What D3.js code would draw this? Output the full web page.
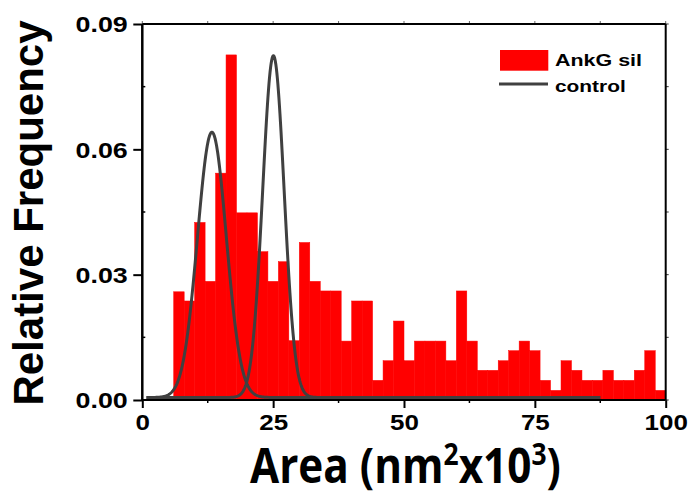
<!DOCTYPE html>
<html><head><meta charset="utf-8">
<script src="https://cdn.jsdelivr.net/npm/d3@7"></script>
<style>body{margin:0;background:#fff}svg{display:block}</style>
</head><body><svg id="c" width="692" height="497"></svg>
<script>
// Histogram (AnkG sil): bin starts and relative frequencies, bin width 2
const binStart = [6,8,10,12,14,16,18,20,22,24,26,28,30,32,34,36,38,40,42,44,46,48,50,52,54,56,58,60,62,64,66,68,70,72,74,76,78,80,82,84,86,88,90,92,94,96,98];
const binFreq  = [0.0259,0.0237,0.0425,0.0284,0.0543,0.0826,0.0448,0.0448,0.0355,0.0284,0.0331,0.0142,0.0377,0.0284,0.0261,0.0261,0.0141,0.0237,0.0237,0.0047,0.0094,0.0189,0.0094,0.0141,0.0141,0.0141,0.0094,0.0261,0.0141,0.0071,0.0071,0.0094,0.0118,0.0141,0.0118,0.0047,0.0023,0.0094,0.0071,0.0047,0.0047,0.0071,0.0047,0.0047,0.0071,0.0118,0.0023];
const binWidth = 2;
// Control: two Gaussian fit curves (centre, sigma, peak height), baseline offset, x extent
const controlCenter = [13.3, 25.05];
const controlSigma  = [2.75, 2.05];
const controlPeak   = [0.0635, 0.0818];
const controlBase   = 0.0006;
const controlRange  = [0.8, 87.5];
const xTicks = [0,25,50,75,100];
const yTicks = [0,0.03,0.06,0.09];
const legendLabels = ["AnkG sil","control"];

const svg = d3.select("#c");
const L=142.3, R=665.7, T=24, B=400;
const x = d3.scaleLinear().domain([0,100]).range([L,R]);
const y = d3.scaleLinear().domain([0,0.09]).range([B,T]);

// bars
svg.append("g").selectAll("rect").data(binStart).join("rect")
  .attr("x", (d)=>x(d)).attr("width", (d)=>x(d+binWidth)-x(d))
  .attr("y", (d,i)=>y(binFreq[i])).attr("height", (d,i)=>B-y(binFreq[i]))
  .attr("fill","#ff0000").attr("stroke","#ff0000").attr("stroke-width",0.5);

// control curves
const line = d3.line().x(d=>x(d[0])).y(d=>y(d[1])).curve(d3.curveLinear);
controlCenter.forEach((c,k)=>{
  const pts=[];
  for(let v=controlRange[0]; v<=controlRange[1]+1e-9; v+=0.1){
    pts.push([v, controlBase + controlPeak[k]*Math.exp(-((v-c)**2)/(2*controlSigma[k]**2))]);
  }
  svg.append("path").attr("d", line(pts)).attr("fill","none")
    .attr("stroke","#404040").attr("stroke-width",3).attr("stroke-linejoin","round");
});

// axes
const font = "Liberation Sans, Arial, sans-serif";
const yAx = svg.append("g").attr("transform",`translate(${L},0)`)
  .call(d3.axisLeft(y).tickValues(yTicks).tickFormat(d3.format(".2f")).tickSize(9).tickPadding(5));
const xAx = svg.append("g").attr("transform",`translate(0,${B})`)
  .call(d3.axisBottom(x).tickValues(xTicks).tickSize(8).tickPadding(6));
[yAx,xAx].forEach(g=>{
  g.select(".domain").remove();
  g.selectAll(".tick line").attr("stroke","#000").attr("stroke-width",2);
  g.selectAll("text").attr("font-family",font).attr("font-weight","bold").attr("font-size",22).attr("fill","#000");
});
yAx.selectAll("text").attr("x",-14.6/1.22).attr("dy","0.36em").attr("transform","scale(1.22,1)");
xAx.selectAll("text").attr("dy","0.71em").attr("transform","scale(1.18,1)");

// minor ticks
const minorX = [12.5,37.5,62.5,87.5], minorY=[0.015,0.045,0.075];
svg.append("g").selectAll("line").data(minorX).join("line")
  .attr("x1",d=>x(d)).attr("x2",d=>x(d)).attr("y1",B).attr("y2",B+3).attr("stroke","#000").attr("stroke-width",1.5);
svg.append("g").selectAll("line").data(minorY).join("line")
  .attr("y1",d=>y(d)).attr("y2",d=>y(d)).attr("x1",L).attr("x2",L+3).attr("stroke","#000").attr("stroke-width",1.5);
// top & right small ticks
svg.append("g").selectAll("line").data(xTicks.concat(minorX)).join("line")
  .attr("x1",d=>x(d)).attr("x2",d=>x(d)).attr("y1",T).attr("y2",T-3).attr("stroke","#666").attr("stroke-width",1);
svg.append("g").selectAll("line").data(yTicks.concat(minorY)).join("line")
  .attr("y1",d=>y(d)).attr("y2",d=>y(d)).attr("x1",R).attr("x2",R+3).attr("stroke","#333").attr("stroke-width",1);

// frame
svg.append("line").attr("x1",L).attr("x2",L).attr("y1",T).attr("y2",B+1).attr("stroke","#000").attr("stroke-width",2.5);
svg.append("line").attr("x1",L).attr("x2",R).attr("y1",B).attr("y2",B).attr("stroke","#000").attr("stroke-width",2);
svg.append("line").attr("x1",R).attr("x2",R).attr("y1",T).attr("y2",B).attr("stroke","#000").attr("stroke-width",2);
svg.append("line").attr("x1",L).attr("x2",R).attr("y1",T).attr("y2",T).attr("stroke","#000").attr("stroke-width",2);

// legend
svg.append("rect").attr("x",500).attr("y",50).attr("width",48.3).attr("height",20.7).attr("fill","#ff0000");
svg.append("line").attr("x1",499).attr("x2",548).attr("y1",84).attr("y2",84).attr("stroke","#404040").attr("stroke-width",3);
svg.append("text").attr("x",555).attr("y",66).text(legendLabels[0])
  .attr("font-family",font).attr("font-weight","bold").attr("font-size",17).attr("textLength",87).attr("lengthAdjust","spacingAndGlyphs");
svg.append("text").attr("x",555).attr("y",92.3).text(legendLabels[1])
  .attr("font-family",font).attr("font-weight","bold").attr("font-size",17).attr("textLength",70.7).attr("lengthAdjust","spacingAndGlyphs");

// y title
svg.append("text").attr("transform","translate(43,213) rotate(-90)").attr("text-anchor","middle")
  .attr("font-family",font).attr("font-weight","bold").attr("font-size",42).text("Relative Frequency");

// x title (scaled horizontally to the reference width)
const xtG = svg.append("g");
const xt = xtG.append("text").attr("x",0).attr("y",0)
  .attr("font-family","'Open Sans', sans-serif").attr("font-weight","bold").attr("font-size",48);
xt.append("tspan").text("Area (nm");
xt.append("tspan").attr("font-size",30).attr("dy",-18).text("2");
xt.append("tspan").attr("dy",18).text("x10");
xt.append("tspan").attr("font-size",30).attr("dy",-18).text("3");
xt.append("tspan").attr("dy",18).text(")");
const w = xt.node().getComputedTextLength();
const sx = 311 / w;
xtG.attr("transform",`translate(250,483) scale(${sx},1)`);
</script></body></html>
